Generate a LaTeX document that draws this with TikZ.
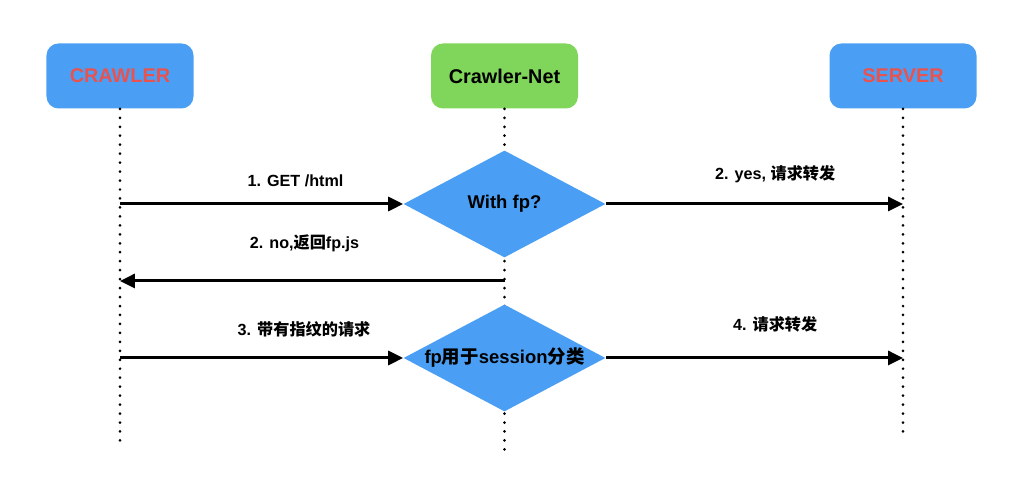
\documentclass[tikz,border=0pt]{standalone}
\usepackage{fontspec}
\setmainfont{Liberation Sans}
\newfontfamily\cjk{Noto Sans CJK SC}
\usetikzlibrary{positioning,arrows.meta}
\usetikzlibrary{shapes.geometric}
\definecolor{boxblue}{HTML}{4A9FF5}
\definecolor{boxgreen}{HTML}{80D65A}
\definecolor{lblred}{HTML}{E8534F}
\tikzstyle{actor} = [draw=none, rounded corners=0.24cm, minimum width=2.94cm, minimum height=1.3cm, font=\bfseries\fontsize{11.3}{13}\selectfont]
\tikzstyle{decision} = [diamond, fill=boxblue, inner sep=0pt, shape aspect=1.89, minimum width=4.04cm, minimum height=2.14cm, font=\bfseries\fontsize{10.5}{12}\selectfont]
\tikzstyle{lifeline} = [line width=1.7pt, dash pattern=on 0pt off 5.1pt, line cap=round]
\tikzstyle{msg} = [line width=1.7pt, -{Triangle[length=8.5pt,width=8pt]}]
\tikzstyle{lbl} = [font=\bfseries\fontsize{9.2}{11}\selectfont]

\begin{document}
\begin{tikzpicture}[scale = 1]
\useasboundingbox (0,0) rectangle (20.48,10);

% actors
\node[actor, fill=boxblue, text=lblred] (crawler) at (2.4,8.48) {CRAWLER};
\node[actor, fill=boxgreen] (net) at (10.09,8.48) {Crawler-Net};
\node[actor, fill=boxblue, text=lblred] (server) at (18.06,8.48) {SERVER};

% lifelines
\draw[lifeline] (crawler.south) -- (2.4,1.1) coordinate (crawler_end);
\draw[lifeline] (net.south) -- (10.09,1.0) coordinate (net_end);
\draw[lifeline] (server.south) -- (18.06,1.2) coordinate (server_end);

% checks on the proxy
\node[decision] (q_1) at (10.09,5.92) {With fp?};
\node[decision] (q_2) at (10.09,2.84) {fp{\cjk 用于}session{\cjk 分类}};

\coordinate (c_1) at (crawler |- q_1);
\coordinate (s_1) at (server |- q_1);
\coordinate (n_1) at (10.09,4.38);
\coordinate (c_2) at (crawler |- n_1);
\coordinate (c_3) at (crawler |- q_2);
\coordinate (s_3) at (server |- q_2);

% messages
\draw[msg] (c_1) -- (q_1.west) node[lbl, pos=0.62, above=0.2cm] {1. GET /html};
\draw[msg] (q_1.east) -- (s_1) node[lbl, pos=0.57, above=0.27cm] {2. yes, {\cjk 请求转发}};
\draw[msg] (n_1) -- (c_2) node[lbl, pos=0.52, above=0.44cm] {2. no,{\cjk 返回}fp.js};
\draw[msg] (c_3) -- (q_2.west) node[lbl, pos=0.65, above=0.27cm] {3. {\cjk 带有指纹的请求}};
\draw[msg] (q_2.east) -- (s_3) node[lbl, pos=0.57, above=0.36cm] {4. {\cjk 请求转发}};

\end{tikzpicture}
\end{document}
